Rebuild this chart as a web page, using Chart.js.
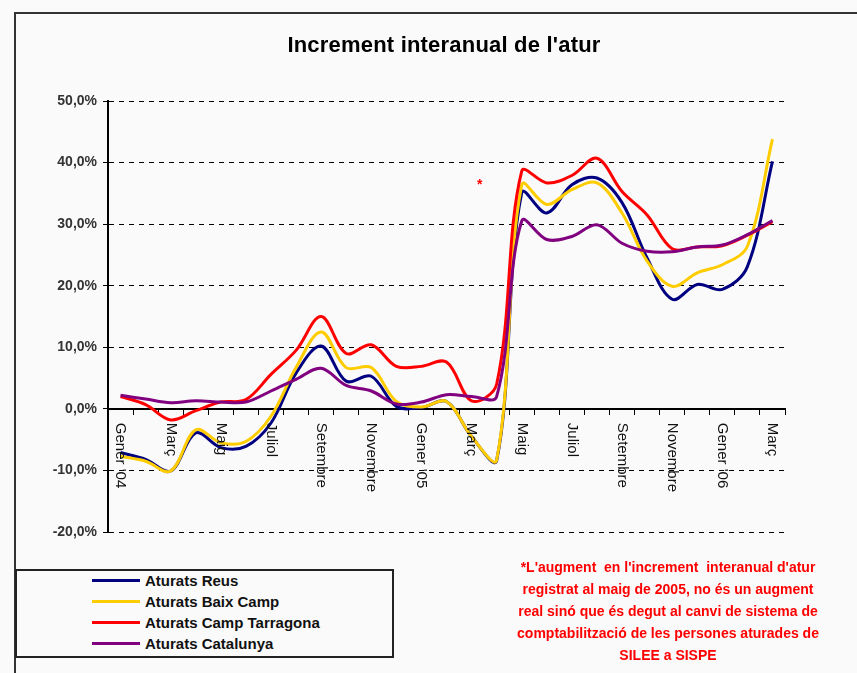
<!DOCTYPE html>
<html>
<head>
<meta charset="utf-8">
<script src="https://cdn.jsdelivr.net/npm/chart.js@4.4.0/dist/chart.umd.min.js"></script>
<style>
  body { margin: 0; background: #fafafa; font-family: "Liberation Sans", Arial, sans-serif; }
  #wrap { position: relative; width: 857px; height: 673px; overflow: hidden; }
  #frame { position: absolute; left: 14px; top: 12px; width: 900px; height: 700px;
           border-top: 2px solid #333; border-left: 2px solid #333; }
  #title { position: absolute; left: 0; top: 34px; width: 888px; text-align: center;
           font: bold 22px/22px "Liberation Sans", Arial, sans-serif; color: #000; letter-spacing: 0.2px; }
  canvas { position: absolute; left: 0; top: 0; }
  #legend { position: absolute; left: 15px; top: 569px; width: 379px; height: 89px;
            box-sizing: border-box; border: 2px solid #222; background: #fafafa; }
  .row { position: absolute; left: 75px; height: 20px; display: flex; align-items: center;
         font: bold 15px "Liberation Sans", Arial, sans-serif; color: #111; white-space: nowrap; }
  .swatch { width: 48px; height: 3px; margin-right: 5px; }
  #note { position: absolute; left: 508px; top: 556px; width: 320px; text-align: center;
          font: bold 14px/22px "Liberation Sans", Arial, sans-serif; color: #f00; white-space: pre; }
  #star { position: absolute; left: 477px; top: 176px; font: bold 14px "Liberation Sans", Arial, sans-serif; color: #f00; }
</style>
</head>
<body>
<div id="wrap">
  <div id="frame"></div>
  <canvas id="atur" width="857" height="673"></canvas>
  <div id="title">Increment interanual de l'atur</div>
  <div id="star">*</div>
  <div id="legend"></div>
  <div id="note">*L'augment  en l'increment  interanual d'atur
registrat al maig de 2005, no és un augment
real sinó que és degut al canvi de sistema de
comptabilització de les persones aturades de
SILEE a SISPE</div>
</div>
<script>
// mesos de gener 2004 a març 2006 (només s'etiqueten els parells)
const tickLabels = ["Gener '04", "", "Març", "", "Maig", "", "Juliol", "", "Setembre", "", "Novembre", "",
  "Gener '05", "", "Març", "", "Maig", "", "Juliol", "", "Setembre", "", "Novembre", "",
  "Gener '06", "", "Març"];

const reus = [-7.1, -8.2, -10.1, -3.9, -6.3, -6.1, -2.3, 5.8, 10.2, 4.5, 5.3, 0.4, 0.2, 1.2, -4.5, -8.4,
  35.1, 31.8, 36.4, 37.5, 33.5, 24.5, 17.8, 20.2, 19.4, 23.1, 40.2];
const baixCamp = [-7.7, -8.5, -10.1, -3.4, -5.5, -5.3, -1.2, 6.7, 12.5, 6.7, 6.7, 1.2, 0.3, 1.2, -4.5, -8.3,
  36.4, 33.2, 35.6, 36.7, 31.8, 24.0, 19.9, 22.1, 23.4, 26.4, 43.8];
const campTarragona = [2.0, 0.7, -1.8, -0.3, 1.1, 1.5, 5.6, 9.5, 15.0, 9.0, 10.4, 6.9, 6.9, 7.6, 1.3, 4.0,
  38.6, 36.7, 37.9, 40.7, 35.3, 31.5, 26.0, 26.3, 26.5, 28.2, 30.4];
const catalunya = [2.2, 1.6, 1.0, 1.3, 1.1, 1.1, 2.9, 4.8, 6.6, 3.8, 2.9, 0.8, 1.1, 2.3, 2.0, 2.0,
  30.5, 27.5, 28.0, 29.9, 26.9, 25.6, 25.5, 26.3, 26.6, 28.3, 30.6];

const seriesNames = ['Aturats Reus', 'Aturats Baix Camp', 'Aturats Camp Tarragona', 'Aturats Catalunya'];
const seriesColors = ['#000080', '#ffcc00', '#ff0000', '#800080'];
const yMin = -20, yMax = 50, yStep = 10;

// etiquetes de l'eix x verticals, llegint de dalt a baix
const verticalLabels = {
  id: 'verticalLabels',
  afterDraw(chart) {
    const ctx = chart.ctx;
    const xs = chart.scales.x;
    const y0 = chart.scales.y.getPixelForValue(0);
    ctx.save();
    ctx.font = '15px "Liberation Sans", Arial, sans-serif';
    ctx.fillStyle = '#111';
    ctx.textAlign = 'left';
    ctx.textBaseline = 'middle';
    tickLabels.forEach((lab, i) => {
      if (!lab) return;
      ctx.save();
      ctx.translate(xs.getPixelForTick(i), y0 + 14);
      ctx.rotate(Math.PI / 2);
      ctx.fillText(lab, 0, 0);
      ctx.restore();
    });
    ctx.restore();
  }
};

const series = [reus, baixCamp, campTarragona, catalunya];
const chart = new Chart(document.getElementById('atur'), {
  type: 'line',
  data: {
    labels: tickLabels,
    datasets: series.map((d, i) => ({
      label: seriesNames[i],
      data: d,
      borderColor: seriesColors[i],
      backgroundColor: seriesColors[i],
      borderWidth: 3,
      pointRadius: 0,
      tension: 0.35,
      fill: false,
      order: series.length - i
    }))
  },
  options: {
    responsive: false,
    animation: false,
    layout: { padding: { left: 0, top: 101, right: 72, bottom: 141 } },
    plugins: {
      legend: { display: false },
      title: { display: false },
      tooltip: { enabled: false }
    },
    scales: {
      x: {
        type: 'category',
        offset: true,
        position: { y: 0 },
        grid: { display: true, drawOnChartArea: false, drawTicks: true, tickLength: 5, offset: true, color: '#000', lineWidth: 1 },
        border: { display: true, color: '#000', width: 2 },
        ticks: { display: false }
      },
      y: {
        min: yMin,
        max: yMax,
        afterFit(scale) { scale.width = 108; },
        ticks: {
          stepSize: yStep,
          padding: 6,
          color: '#333',
          font: { family: '"Liberation Sans", Arial, sans-serif', size: 14, weight: 'bold' },
          callback: v => v.toFixed(1).replace('.', ',') + '%'
        },
        grid: { color: '#000', lineWidth: 1, tickLength: 5, tickBorderDash: [] },
        border: { display: true, color: '#000', width: 2, dash: [5, 5] }
      }
    }
  },
  plugins: [verticalLabels]
});

// llegenda en caixa
const legend = document.getElementById('legend');
chart.data.datasets.forEach((ds, i) => {
  const row = document.createElement('div');
  row.className = 'row';
  row.style.top = (-1 + i * 21.3) + 'px';
  const sw = document.createElement('span');
  sw.className = 'swatch';
  sw.style.background = ds.borderColor;
  row.appendChild(sw);
  row.appendChild(document.createTextNode(ds.label));
  legend.appendChild(row);
});
</script>
</body>
</html>
